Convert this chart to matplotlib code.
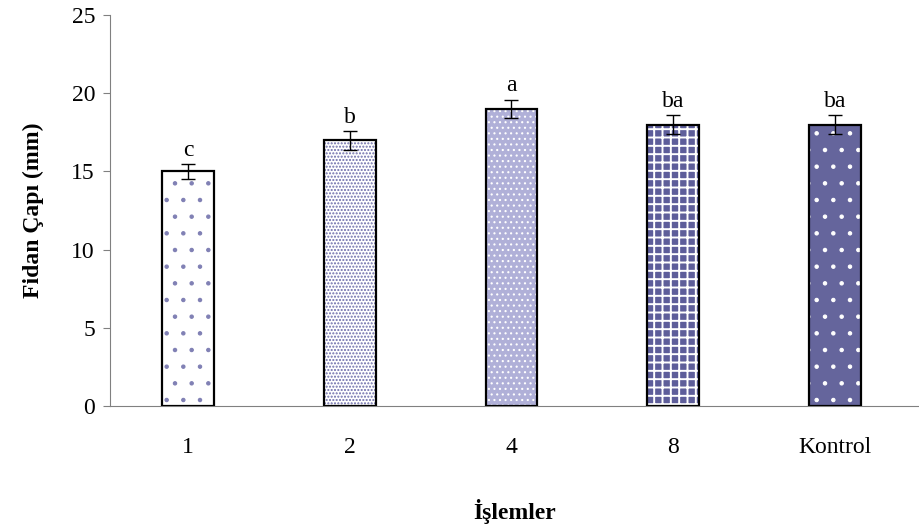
import numpy as np
import matplotlib.pyplot as plt

plt.rcParams['font.family'] = ['Liberation Serif', 'DejaVu Serif']
plt.rcParams['font.size'] = 17

categories = ['1', '2', '4', '8', 'Kontrol']
values = [15.0, 17.0, 19.0, 18.0, 18.0]
errors = [0.5, 0.6, 0.6, 0.6, 0.6]
letters = ['c', 'b', 'a', 'ba', 'ba']

# fill, hatch pattern, hatch colour per bar
faces = ['white', 'white', '#b0b0d8', '#5e5e9a', '#65659c']
hatches = ['.', '.....', '...', '++', '.']
hatch_cols = ['#8080b4', '#6c6caa', 'white', 'white', 'white']
hatch_lw = [0.8, 1.0, 0.8, 1.4, 0.8]

fig = plt.figure(figsize=(9.19, 5.29), dpi=100)
ax = fig.add_axes([0.12, 0.2325, 0.88, 0.739])

x = np.arange(len(categories))
w = 0.32
for i in range(len(categories)):
    plt.rcParams['hatch.linewidth'] = hatch_lw[i]
    ax.bar(x[i] - 0.02, values[i], w, color=faces[i], edgecolor=hatch_cols[i],
           hatch=hatches[i], linewidth=0, zorder=2)
ax.bar(x - 0.02, values, w, facecolor='none', edgecolor='black', linewidth=1.6, zorder=3)
ax.errorbar(x - 0.02, values, yerr=errors, fmt='none', ecolor='black', elinewidth=1,
            capsize=5, capthick=1, zorder=4)

for xi, v, e, t in zip(x - 0.02, values, errors, letters):
    ax.text(xi, v + e + 0.2, t, ha='center', va='bottom', fontsize=17)

ax.set_xlim(-0.5, len(categories) - 0.5)
ax.set_ylim(0, 25)
ax.set_yticks(range(0, 26, 5))
ax.set_xticks(x - 0.02)
ax.set_xticklabels(categories)
ax.tick_params(axis='x', length=0, pad=22)
ax.tick_params(axis='y', length=5, color='#808080', pad=6)

for s in ['top', 'right']:
    ax.spines[s].set_visible(False)
for s in ['left', 'bottom']:
    ax.spines[s].set_color('#808080')

ax.set_ylabel('Fidan Çapı (mm)', fontweight='bold', labelpad=20)
ax.set_xlabel('İşlemler', fontweight='bold', labelpad=30)

fig.savefig('out.png', dpi=100)
